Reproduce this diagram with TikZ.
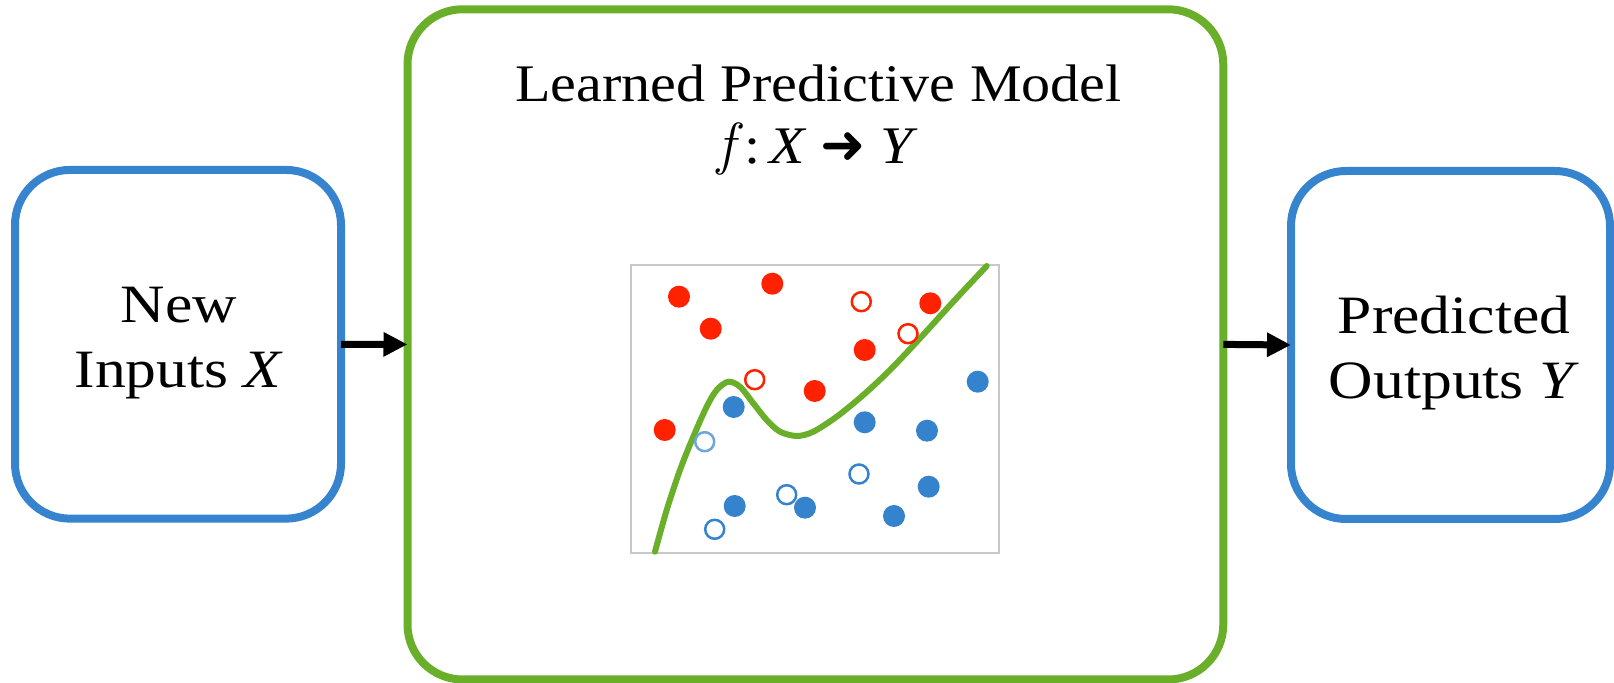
\documentclass[tikz,border=0pt]{standalone}
\usepackage{fontspec}
\setmainfont[FakeStretch=1.1]{Liberation Serif}
\newfontfamily\boxfont[FakeStretch=1.14]{Liberation Serif}
\newfontfamily\symfont{DejaVu Sans}
\newfontfamily\lmfont{Latin Modern Roman}
\usetikzlibrary{arrows.meta}
\definecolor{bluebox}{RGB}{55,132,206}
\definecolor{greenbox}{RGB}{106,175,42}
\definecolor{dotred}{RGB}{255,34,0}
\definecolor{dotblue}{RGB}{53,131,204}
\definecolor{lightblue}{RGB}{108,166,220}
\definecolor{framegray}{RGB}{200,200,200}
\tikzset{
  iobox/.style={draw=bluebox, line width=4pt, rounded corners=27.5pt, inner sep=0pt, outer sep=0pt},
  modelbox/.style={draw=greenbox, line width=4pt, rounded corners=27.5pt, inner sep=0pt, outer sep=0pt},
  plotframe/.style={draw=framegray, line width=1pt, inner sep=0pt, outer sep=0pt},
  boxtext/.style={font=\boxfont\fontsize{27pt}{32.5pt}\selectfont, align=center, anchor=base, inner sep=0pt},
  titletext/.style={font=\fontsize{26.4pt}{31.2pt}\selectfont, anchor=base, inner sep=0pt},
  flow/.style={line width=3.5pt, -{Triangle[length=12pt,width=11.5pt]}},
  fitcurve/.style={draw=greenbox, line width=3pt, line cap=round},
  reddot/.style={fill=dotred},
  bluedot/.style={fill=dotblue},
  redring/.style={draw=dotred, line width=1.25pt},
  bluering/.style={draw=dotblue, line width=1.25pt},
  lightring/.style={draw=lightblue, line width=1.25pt}
}
\begin{document}
\begin{tikzpicture}[x=0.5pt, y=-0.5pt]
\useasboundingbox (0,0) rectangle (1614,683);
% boxes
\node[iobox, minimum width=163pt, minimum height=174.35pt] (inbox) at (178,344.3) {};
\node[modelbox, minimum width=407.9pt, minimum height=335.1pt] (model) at (815.4,344.4) {};
\node[iobox, minimum width=159.5pt, minimum height=174pt] (outbox) at (1450.5,345) {};
% texts
\node[boxtext] (intext) at (179,387.3) {New\\Inputs \textit{X}};
\node[boxtext] (outtext) at (1454,398.3) {Predicted\\Outputs \textit{Y}};
\node[titletext] (title) at (818.6,101.7) {Learned Predictive Model};
\node[titletext] (func) at (818,164) {{\lmfont\itshape\fontsize{29pt}{29pt}\selectfont f}\,:\,\textit{X} {\symfont\fontsize{27pt}{27pt}\selectfont ➜} \textit{Y}};
% arrows
\draw[flow] (inbox.east) -- (model.west);
\draw[flow] (model.east) -- (outbox.west);
% plot
\node[plotframe, minimum width=184pt, minimum height=143.85pt] (plot) at (815,408.85) {};
\draw[fitcurve] plot[smooth, tension=0.5] coordinates {
 (655,551.7) (666.7,510) (680,470) (693.3,436.7) (706.7,406.7) (716.7,390) (728.3,381.7)
 (740,386.7) (753.3,403.3) (766.7,420) (780,431.7) (797,436) (813.3,431.7)
 (836.7,416.7) (863.3,395) (890,370) (920,338.3) (953.3,301.7) (986.7,266)};
% red filled
\foreach \p in {(679,296.7),(772.3,283.7),(710.7,328.7),(930.3,303.3),(864.7,350),(814.7,391),(664.7,430)}
  \fill[reddot] \p circle[radius=5.5pt];
% red open
\foreach \p in {(861.3,301.7),(908,333.7),(754.7,379.7)}
  \draw[redring] \p circle[radius=4.75pt];
% blue filled
\foreach \p in {(977.7,381.7),(733.7,407),(864.7,422.3),(927,430.7),(928.7,486.7),(734.7,506),(805,507.7),(894,516)}
  \fill[bluedot] \p circle[radius=5.5pt];
% blue open
\foreach \p in {(786.7,494.7),(859,474),(714.7,529.3)}
  \draw[bluering] \p circle[radius=4.75pt];
\draw[lightring] (704.7,441.7) circle[radius=4.75pt];
\end{tikzpicture}
\end{document}
